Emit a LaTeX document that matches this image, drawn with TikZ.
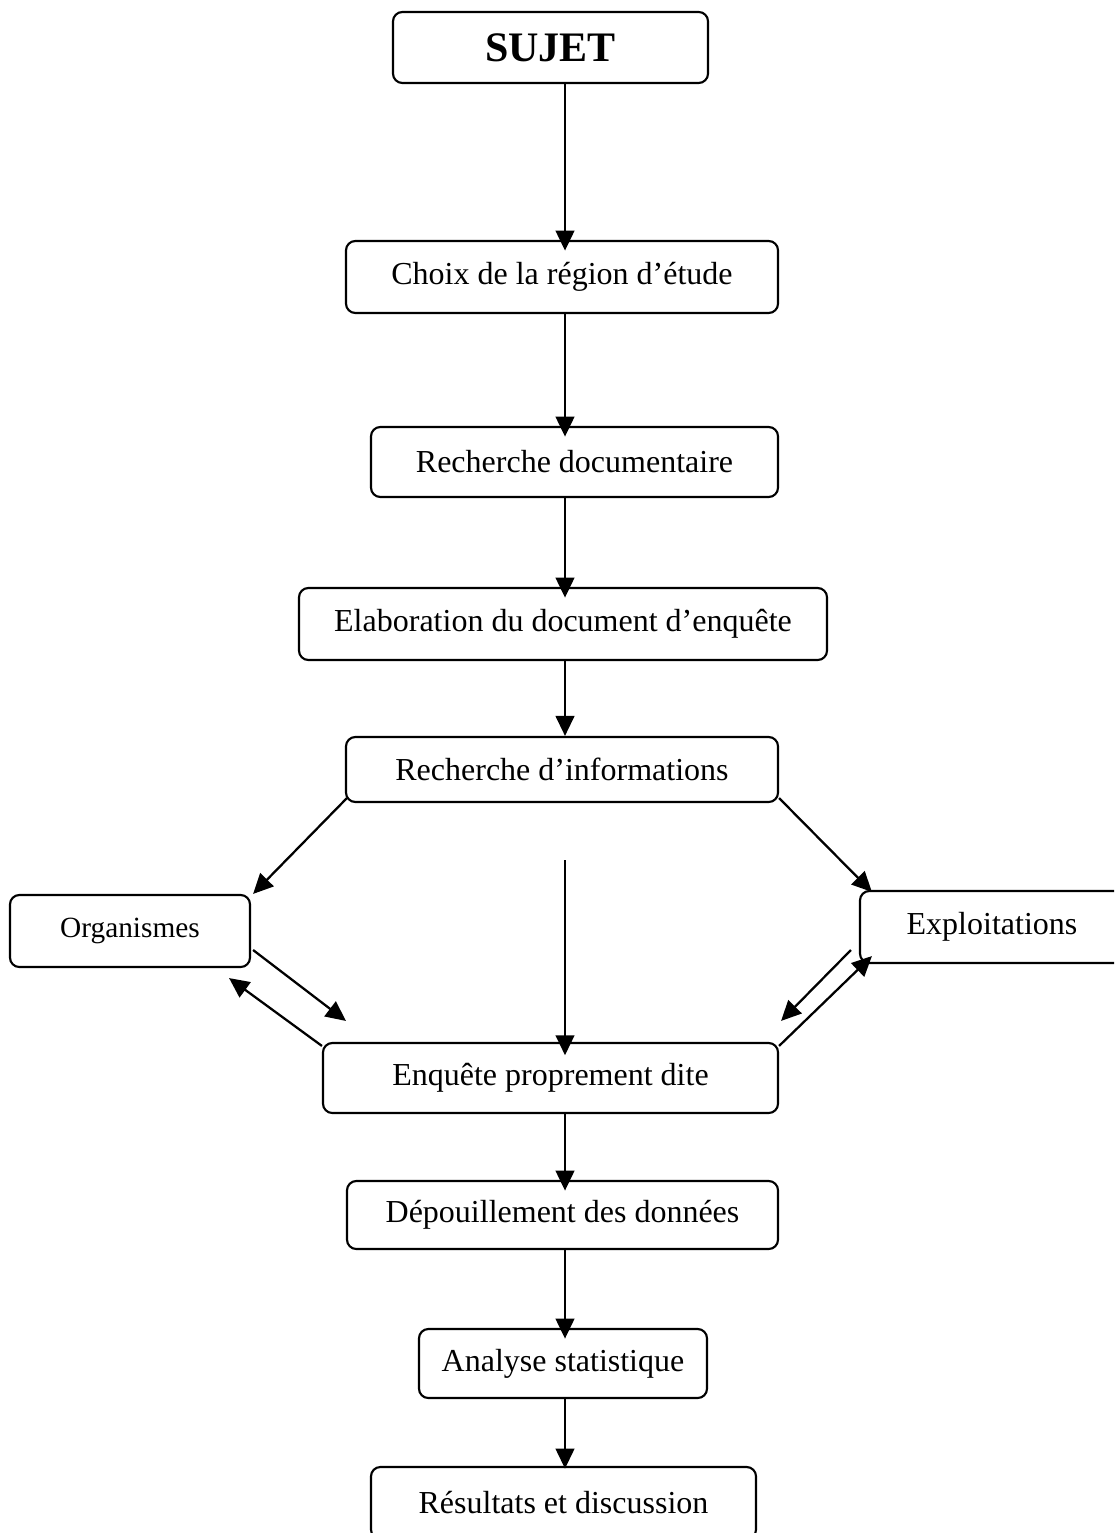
\documentclass[tikz,border=0pt]{standalone}
\usepackage{fontspec}
\setmainfont{Liberation Serif}
\usetikzlibrary{arrows.meta,calc}
\begin{document}
\begin{tikzpicture}[x=0.75pt,y=-0.75pt,
  box/.style={draw, line width=1.6pt, rounded corners=7pt, inner sep=0pt,
    font=\fontsize{24}{28}\selectfont},
  sz/.style 2 args={minimum width=#1*0.75pt, minimum height=#2*0.75pt},
  arr/.style={line width=1.7pt, -{Triangle[length=15pt,width=14pt]}, shorten >=-8pt},
  darr/.style={line width=1.7pt, -{Triangle[length=15pt,width=14pt]}}
]
\useasboundingbox (0,0) rectangle (1114,1533);
\clip (0,0) rectangle (1114,1533);

\node[box, sz={315}{71}, font=\fontsize{31.5}{36}\selectfont\bfseries] (sujet) at (550.5,47.5) {SUJET};
\node[box, sz={432}{72}] (choix) at (562,277) {Choix de la région d’étude};
\node[box, sz={407}{70}] (rdoc) at (574.5,462) {Recherche documentaire};
\node[box, sz={528}{72}] (elab) at (563,624) {Elaboration du document d’enquête};
\node[box, sz={432}{65}] (rinfo) at (562,769.5) {Recherche d’informations};
\node[box, sz={240}{72}, font=\fontsize{22}{26}\selectfont] (org) at (130,931) {Organismes};
\node[box, sz={264}{72}] (expl) at (992,927) {Exploitations};
\node[box, sz={455}{70}] (enq) at (550.5,1078) {Enquête proprement dite};
\node[box, sz={431}{68}] (dep) at (562.5,1215) {Dépouillement des données};
\node[box, sz={288}{69}] (ana) at (563,1363.5) {Analyse statistique};
\node[box, sz={385}{72}] (res) at (563.5,1503) {Résultats et discussion};

\coordinate (mid) at (565,860);

\draw[arr] (sujet.south -| 565,0) -- (choix.north -| 565,0);
\draw[arr] (choix.south -| 565,0) -- (rdoc.north -| 565,0);
\draw[arr] (rdoc.south -| 565,0) -- (elab.north -| 565,0);
\draw[arr, shorten >=0pt] (elab.south -| 565,0) -- (rinfo.north -| 565,0);
\draw[arr, shorten >=-10pt] (mid) -- (enq.north -| 565,0);
\draw[arr] (enq.south -| 565,0) -- (dep.north -| 565,0);
\draw[arr] (dep.south -| 565,0) -- (ana.north -| 565,0);
\draw[arr, shorten >=-2pt] (ana.south -| 565,0) -- (res.north -| 565,0);

\draw[darr] ($(rinfo.south west)+(2,-5)$) -- ($(org.north east)+(2,0)$);
\draw[darr] ($(rinfo.south east)+(0,-5)$) -- ($(expl.north west)+(13,2)$);
\draw[darr] ($(org.east)+(2,19)$) -- ($(enq.north west)+(24,-21)$);
\draw[darr] ($(enq.north west)+(0,4)$) -- ($(org.south east)+(-22,10)$);
\draw[darr] ($(expl.west)+(-8,23)$) -- ($(enq.north east)+(2,-21)$);
\draw[darr] ($(enq.north east)+(0,4)$) -- ($(expl.south west)+(13,-8)$);
\end{tikzpicture}
\end{document}
